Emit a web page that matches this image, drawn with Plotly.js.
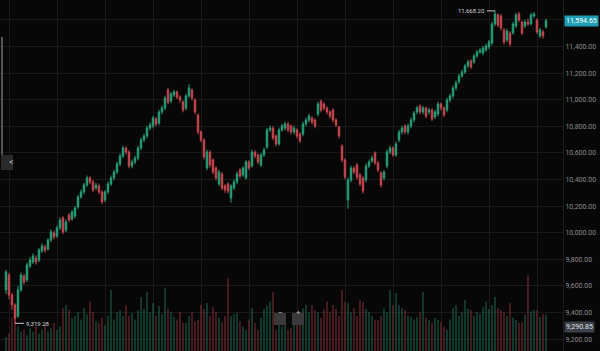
<!DOCTYPE html>
<html>
<head>
<meta charset="utf-8">
<script src="https://cdn.plot.ly/plotly-3.0.1.min.js"></script>
<style>
html,body{margin:0;padding:0;background:#070707;}
#chart{width:600px;height:351px;}
</style>
</head>
<body>
<div id="chart"></div>
<script>
var open = [9570,9682,9532,9457,9374,9570,9675,9645,9750,9780,
9810,9795,9863,9893,9878,9946,9998,9976,10036,10111,
10021,10134,10103,10126,10194,10269,10307,10359,10412,10382,
10337,10352,10307,10246,10307,10367,10412,10457,10517,10577,
10637,10607,10502,10532,10562,10637,10698,10728,10788,10803,
10856,10825,10908,10938,11074,10991,11036,11059,11021,10983,
10938,11029,11074,10998,10886,10758,10698,10487,10607,10547,
10487,10367,10442,10352,10367,10261,10337,10382,10472,10434,
10412,10532,10502,10607,10585,10510,10585,10645,10773,10788,
10728,10668,10773,10788,10818,10803,10758,10773,10743,10743,
10818,10848,10863,10848,10893,10991,10968,10938,10908,10923,
10848,10795,10653,10547,10246,10397,10487,10510,10434,10412,
10397,10502,10540,10600,10525,10450,10412,10502,10607,10637,
10585,10698,10758,10803,10758,10803,10848,10908,10953,10908,
10938,10908,10923,10871,10893,10968,10938,10923,10998,11029,
11089,11134,11179,11209,11254,11292,11284,11329,11359,11352,
11374,11397,11427,11570,11638,11630,11525,11450,11502,11502,
11555,11645,11585,11555,11585,11570,11630,11600,11480,11510,
11547];

var close = [9705,9532,9457,9359,9570,9682,9630,9758,9795,9825,
9780,9870,9901,9870,9946,10006,9968,10036,10096,10006,
10081,10096,10156,10186,10269,10307,10359,10412,10382,10322,
10359,10307,10231,10307,10367,10412,10457,10517,10577,10637,
10607,10502,10532,10562,10637,10698,10728,10788,10810,10863,
10818,10908,10938,11013,10983,11044,11059,11021,10998,10923,
11029,11089,11013,10908,10758,10698,10570,10607,10510,10457,
10412,10457,10337,10322,10314,10352,10382,10442,10427,10487,
10532,10487,10607,10577,10532,10585,10622,10773,10788,10713,
10668,10773,10803,10818,10773,10758,10788,10728,10690,10818,
10848,10878,10833,10803,10968,10923,10938,10908,10878,10848,
10810,10728,10547,10419,10397,10487,10457,10419,10367,10314,
10502,10532,10562,10525,10472,10359,10457,10607,10637,10585,
10668,10758,10788,10758,10803,10848,10900,10938,10908,10938,
10878,10923,10856,10908,10968,10938,10886,10998,11029,11089,
11126,11179,11209,11254,11284,11247,11329,11359,11374,11389,
11404,11435,11570,11645,11562,11540,11435,11517,11420,11570,
11638,11600,11502,11585,11570,11638,11645,11510,11525,11480,
11594.65];

var high = [9720,9700,9550,9470,9600,9700,9690,9775,9815,9845,
9830,9885,9920,9910,9960,10025,10015,10055,10115,10125,
10100,10150,10170,10200,10285,10325,10375,10430,10425,10395,
10375,10370,10320,10320,10385,10430,10475,10535,10595,10655,
10650,10620,10550,10580,10655,10715,10745,10805,10830,10880,
10870,10925,10955,11030,11090,11060,11075,11070,11035,10995,
11045,11118,11085,11010,10895,10770,10710,10625,10620,10560,
10500,10475,10455,10365,10380,10365,10400,10460,10485,10500,
10545,10545,10625,10620,10595,10600,10640,10790,10805,10800,
10740,10790,10820,10835,10830,10815,10805,10785,10755,10835,
10865,10895,10875,10860,10985,11000,10980,10950,10920,10935,
10860,10805,10665,10560,10415,10505,10500,10525,10450,10425,
10520,10550,10580,10612,10540,10462,10470,10625,10655,10650,
10685,10775,10805,10815,10820,10865,10915,10955,10965,10955,
10950,10940,10935,10925,10985,10980,10950,11015,11045,11105,
11145,11195,11225,11270,11300,11305,11345,11375,11390,11405,
11420,11450,11585,11668.2,11650,11645,11540,11535,11515,11585,
11655,11660,11595,11600,11610,11655,11660,11612,11540,11525,
11610];

var low = [9540,9500,9420,9319.28,9360,9555,9610,9630,9735,9765,
9760,9780,9850,9850,9865,9930,9950,9960,10020,9990,
10005,10080,10090,10110,10180,10255,10290,10345,10365,10305,
10320,10290,10215,10230,10290,10350,10395,10440,10500,10560,
10590,10485,10485,10515,10545,10620,10680,10710,10770,10785,
10800,10810,10890,10920,10965,10975,11020,11005,10980,10905,
10920,11015,10995,10890,10740,10680,10550,10470,10490,10440,
10395,10350,10320,10300,10295,10227,10320,10365,10410,10420,
10400,10470,10490,10560,10515,10495,10570,10630,10760,10695,
10650,10655,10760,10770,10755,10740,10740,10710,10675,10725,
10800,10830,10815,10785,10875,10905,10920,10890,10860,10830,
10795,10710,10530,10400,10181,10380,10440,10400,10350,10295,
10380,10485,10525,10510,10455,10340,10395,10485,10590,10570,
10570,10680,10740,10740,10740,10785,10830,10890,10890,10890,
10860,10890,10840,10855,10875,10920,10870,10905,10980,11010,
11070,11120,11165,11195,11240,11230,11270,11315,11345,11335,
11360,11380,11410,11555,11545,11520,11415,11435,11400,11490,
11540,11585,11485,11540,11555,11560,11615,11495,11465,11460,
11535];

var volume = [40,50,95,117,70,55,60,45,65,55,
70,50,60,75,55,65,80,60,70,122,
131,117,95,100,111,90,122,105,140,111,
85,80,95,75,100,174,90,111,117,100,
131,100,108,90,117,154,120,168,110,137,
100,128,105,180,120,111,97,90,111,80,
80,100,111,85,88,131,120,137,100,125,
111,95,82,100,208,100,105,108,85,70,
60,90,122,80,60,95,120,128,140,168,
60,75,70,85,60,65,80,90,100,122,
131,110,131,117,110,95,120,140,110,131,
120,100,174,140,137,110,122,100,145,140,
120,111,100,90,88,100,122,110,174,130,
165,131,122,117,100,97,90,97,110,168,
95,88,80,94,88,82,70,60,90,122,
131,100,110,145,120,117,100,111,105,125,
140,120,131,154,122,117,111,100,137,95,
88,80,82,103,216,113,117,117,97,105,
103];

var priceTicks = [9200,9400,9600,9800,10000,10200,10400,10600,10800,11000,11200,11400,11600];
var lastPrice = 11594.65;
var crossPrice = 9290.85;
var highLabel = "11,668.20";
var lowLabel = "9,319.28";

var idx = open.map(function(_, i){ return i; });
var upColor = '#26a07a', downColor = '#c9474f';
var volColors = open.map(function(o, i){ return close[i] >= o ? 'rgba(38,160,122,0.40)' : 'rgba(201,71,79,0.40)'; });

var hiIdx = high.indexOf(Math.max.apply(null, high));
var loIdx = low.indexOf(Math.min.apply(null, low));

var vgrid = [];
for (var g = 1.33; g < 181; g += 16) vgrid.push(g);

var traces = [
  {type:'bar', x: idx, y: volume, yaxis:'y2', marker:{color: volColors, line:{width:0}}, width:0.55, hoverinfo:'skip'},
  {type:'candlestick', x: idx, open: open, high: high, low: low, close: close,
   increasing:{line:{color:upColor, width:1}, fillcolor:upColor},
   decreasing:{line:{color:downColor, width:1}, fillcolor:downColor},
   whiskerwidth:0, hoverinfo:'skip'}
];

var layout = {
  width:600, height:351,
  margin:{l:0, r:37, t:0, b:0, pad:0},
  paper_bgcolor:'#070707', plot_bgcolor:'#070707',
  showlegend:false,
  font:{family:'Roboto, sans-serif', color:'#8c8c8c', size:7},
  xaxis:{range:[-2,185.67], tickvals:vgrid, showticklabels:false, showgrid:true, gridcolor:'#191919', zeroline:false, rangeslider:{visible:false}, showline:false, fixedrange:true},
  yaxis:{side:'right', range:[9111,11750], tickvals:priceTicks, tickformat:',.2f', showgrid:true, gridcolor:'#191919', zeroline:false, showline:true, linecolor:'#1c1c1c', ticks:'', tickfont:{size:7, color:'#8c8c8c'}, fixedrange:true},
  yaxis2:{overlaying:'y', range:[0,1000], visible:false, fixedrange:true},
  shapes:[
    {type:'line', xref:'paper', yref:'paper', x0:0.0036, x1:0.0036, y0:0.55, y1:0.895, line:{color:'#555', width:2}},
    {type:'rect', xref:'paper', yref:'paper', x0:1/563, x1:13/563, y0:1-170/351, y1:1-155/351, fillcolor:'#2a2a2a', line:{width:0}},
    {type:'rect', xref:'paper', yref:'paper', x0:274/563, x1:286/563, y0:1-325/351, y1:1-313/351, fillcolor:'#3a3a3a', line:{width:0}},
    {type:'rect', xref:'paper', yref:'paper', x0:292/563, x1:304/563, y0:1-325/351, y1:1-313/351, fillcolor:'#3a3a3a', line:{width:0}}
  ],
  annotations:[
    {xref:'paper', x:1.002, xanchor:'left', yref:'y', y:lastPrice, text:lastPrice.toLocaleString('en-US',{minimumFractionDigits:2}), showarrow:false, bgcolor:'#1f9db3', font:{color:'#ffffff', size:7}, borderpad:1},
    {xref:'paper', x:1.002, xanchor:'left', yref:'y', y:crossPrice, text:crossPrice.toLocaleString('en-US',{minimumFractionDigits:2}), showarrow:false, bgcolor:'#3a3f4a', font:{color:'#e0e0e0', size:7}, borderpad:1},
    {x:hiIdx, y:high[hiIdx], xref:'x', yref:'y', text:highLabel, showarrow:true, arrowhead:0, arrowwidth:1, arrowcolor:'#cccccc', ax:-8, ay:0, font:{color:'#d0d0d0', size:6}, xanchor:'right'},
    {x:loIdx, y:low[loIdx], xref:'x', yref:'y', text:lowLabel, showarrow:true, arrowhead:0, arrowwidth:1, arrowcolor:'#cccccc', ax:9, ay:0, font:{color:'#d0d0d0', size:6}, xanchor:'left'},
    {xref:'paper', yref:'paper', x:7/563, y:1-162/351, text:'&lt;', showarrow:false, font:{color:'#bbbbbb', size:9}},
    {xref:'paper', yref:'paper', x:280/563, y:1-319/351, text:'−', showarrow:false, font:{color:'#bbbbbb', size:8}},
    {xref:'paper', yref:'paper', x:298/563, y:1-319/351, text:'+', showarrow:false, font:{color:'#bbbbbb', size:8}}
  ]
};

Plotly.newPlot('chart', traces, layout, {displayModeBar:false, staticPlot:true});
</script>
</body>
</html>
